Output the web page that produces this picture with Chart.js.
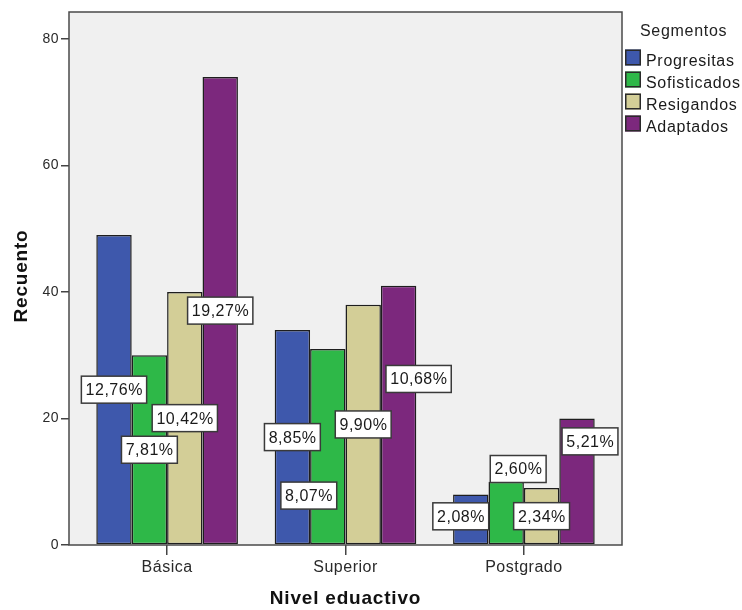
<!DOCTYPE html>
<html>
<head>
<meta charset="utf-8">
<script src="https://cdn.jsdelivr.net/npm/chart.js@4/dist/chart.umd.min.js"></script>
<style>
  html, body { margin:0; padding:0; background:#fff; }
  #wrap { width:742px; height:610px; }
</style>
</head>
<body>
<div id="wrap"><canvas id="barChart" width="742" height="610"></canvas></div>
<script>
// counts per education level
const niveles = ["Básica", "Superior", "Postgrado"];
const segmentos = ["Progresitas", "Sofisticados", "Resigandos", "Adaptados"];
const progresitas = [49, 34, 8];
const sofisticados = [30, 31, 10];
const resigandos = [40, 38, 9];
const adaptados = [74, 41, 20];
const yTicks = [0, 20, 40, 60, 80];

const series = [progresitas, sofisticados, resigandos, adaptados];
const colores = ["#3e58ac", "#2eb848", "#d3ce97", "#7c287d"];
const total = series.flat().reduce((a, b) => a + b, 0);

// label shifts in px (label boxes get pushed off the bar centre where they would collide)
const labelNudge = [
  [[0, 0], [0, 0], [-10, -3]],
  [[0, 0], [-19, 49], [12, -44]],
  [[0, 0], [0, 0], [0, 0]],
  [[0, 0], [20, -36], [13, -40]]
];

function pct(v){
  return (v / total * 100).toFixed(2).replace(".", ",") + "%";
}

const framePlugin = {
  id: "frame",
  beforeDatasetsDraw(chart){
    const { ctx, chartArea: a } = chart;
    ctx.save();
    ctx.fillStyle = "#f0f0f0";
    ctx.fillRect(a.left, a.top, a.right - a.left, a.bottom - a.top);
    ctx.restore();
  },
  afterDatasetsDraw(chart){
    const { ctx, chartArea: a } = chart;
    ctx.save();
    ctx.strokeStyle = "#4a4a4a";
    ctx.lineWidth = 1.5;
    ctx.strokeRect(a.left, a.top, a.right - a.left, a.bottom - a.top);

    // value labels: share of the grand total
    ctx.font = "16px 'Liberation Sans', Arial, sans-serif";
    ctx.letterSpacing = "0.5px";
    ctx.textAlign = "center";
    ctx.textBaseline = "middle";
    series.forEach((vals, di) => {
      const meta = chart.getDatasetMeta(di);
      vals.forEach((v, i) => {
        const bar = meta.data[i];
        const [dx, dy] = labelNudge[di][i];
        const cx = bar.x + dx;
        const cy = (bar.y + bar.base) / 2 + dy;
        const txt = pct(v);
        const w = ctx.measureText(txt).width + 8;
        const h = 27;
        ctx.fillStyle = "#fff";
        ctx.fillRect(cx - w / 2, cy - h / 2, w, h);
        ctx.strokeStyle = "#3a3a3a";
        ctx.lineWidth = 1.5;
        ctx.strokeRect(cx - w / 2, cy - h / 2, w, h);
        ctx.fillStyle = "#1a1a1a";
        ctx.fillText(txt, cx + 0.25, cy + 1);
      });
    });
    ctx.restore();
  },
  afterDraw(chart){
    const { ctx, chartArea: a } = chart;
    ctx.save();
    ctx.fillStyle = "#111";
    ctx.font = "bold 19px 'Liberation Sans', Arial, sans-serif";
    ctx.letterSpacing = "0.8px";
    ctx.textAlign = "center";
    ctx.textBaseline = "alphabetic";
    ctx.fillText("Nivel eduactivo", (a.left + a.right) / 2, 604);
    ctx.save();
    ctx.translate(26.5, 276);
    ctx.rotate(-Math.PI / 2);
    ctx.fillText("Recuento", 0, 0);
    ctx.restore();

    // legend
    ctx.font = "16px 'Liberation Sans', Arial, sans-serif";
    ctx.letterSpacing = "0.7px";
    ctx.textAlign = "left";
    ctx.fillStyle = "#222";
    ctx.fillText("Segmentos", 640, 36);
    segmentos.forEach((s, i) => {
      const top = 49.5 + i * 22;
      ctx.fillStyle = colores[i];
      ctx.fillRect(625, top, 16, 16);
      ctx.strokeStyle = "#2a2a2a";
      ctx.lineWidth = 1.5;
      ctx.strokeRect(625.75, top + 0.75, 14.5, 14.5);
      ctx.fillStyle = "#1a1a1a";
      ctx.fillText(s, 646, top + 16);
    });
    ctx.restore();
  }
};

const tickSpacing = {
  id: "tickSpacing",
  beforeDraw(chart){ chart.ctx.letterSpacing = "0.5px"; }
};

new Chart(document.getElementById("barChart"), {
  type: "bar",
  data: {
    datasets: series.map((vals, di) => ({
      label: segmentos[di],
      data: vals.map((v, i) => ({ x: i, y: v })),
      backgroundColor: colores[di],
      borderColor: "#1e1e1e",
      borderWidth: 1.5,
      borderSkipped: false
    }))
  },
  options: {
    responsive: false,
    animation: false,
    devicePixelRatio: 1,
    layout: { padding: { left: 0, right: 120, top: 12, bottom: 0 } },
    datasets: { bar: { categoryPercentage: 0.794, barPercentage: 1 } },
    plugins: { legend: { display: false }, tooltip: { enabled: false } },
    scales: {
      x: {
        type: "linear",
        offset: false,
        min: -0.55,
        max: 2.55,
        afterFit: s => { s.height = 65; },
        afterBuildTicks: s => { s.ticks = niveles.map((n, i) => ({ value: i })); },
        ticks: {
          callback: v => niveles[v],
          color: "#2a2a2a",
          font: { size: 16, family: "'Liberation Sans', Arial, sans-serif" },
          padding: 3,
          maxRotation: 0
        },
        grid: { offset: false, drawOnChartArea: false, drawTicks: true, tickLength: 10, color: "#444", lineWidth: 1.5 },
        border: { display: false }
      },
      y: {
        min: 0,
        max: 84.27,
        afterFit: s => { s.width = 69; },
        afterBuildTicks: s => { s.ticks = yTicks.map(v => ({ value: v })); },
        ticks: {
          color: "#2a2a2a",
          font: { size: 14, family: "'Liberation Sans', Arial, sans-serif" },
          padding: 2
        },
        grid: { drawOnChartArea: false, drawTicks: true, tickLength: 8, color: "#444", lineWidth: 1.5 },
        border: { display: false }
      }
    }
  },
  plugins: [tickSpacing, framePlugin]
});
</script>
</body>
</html>
